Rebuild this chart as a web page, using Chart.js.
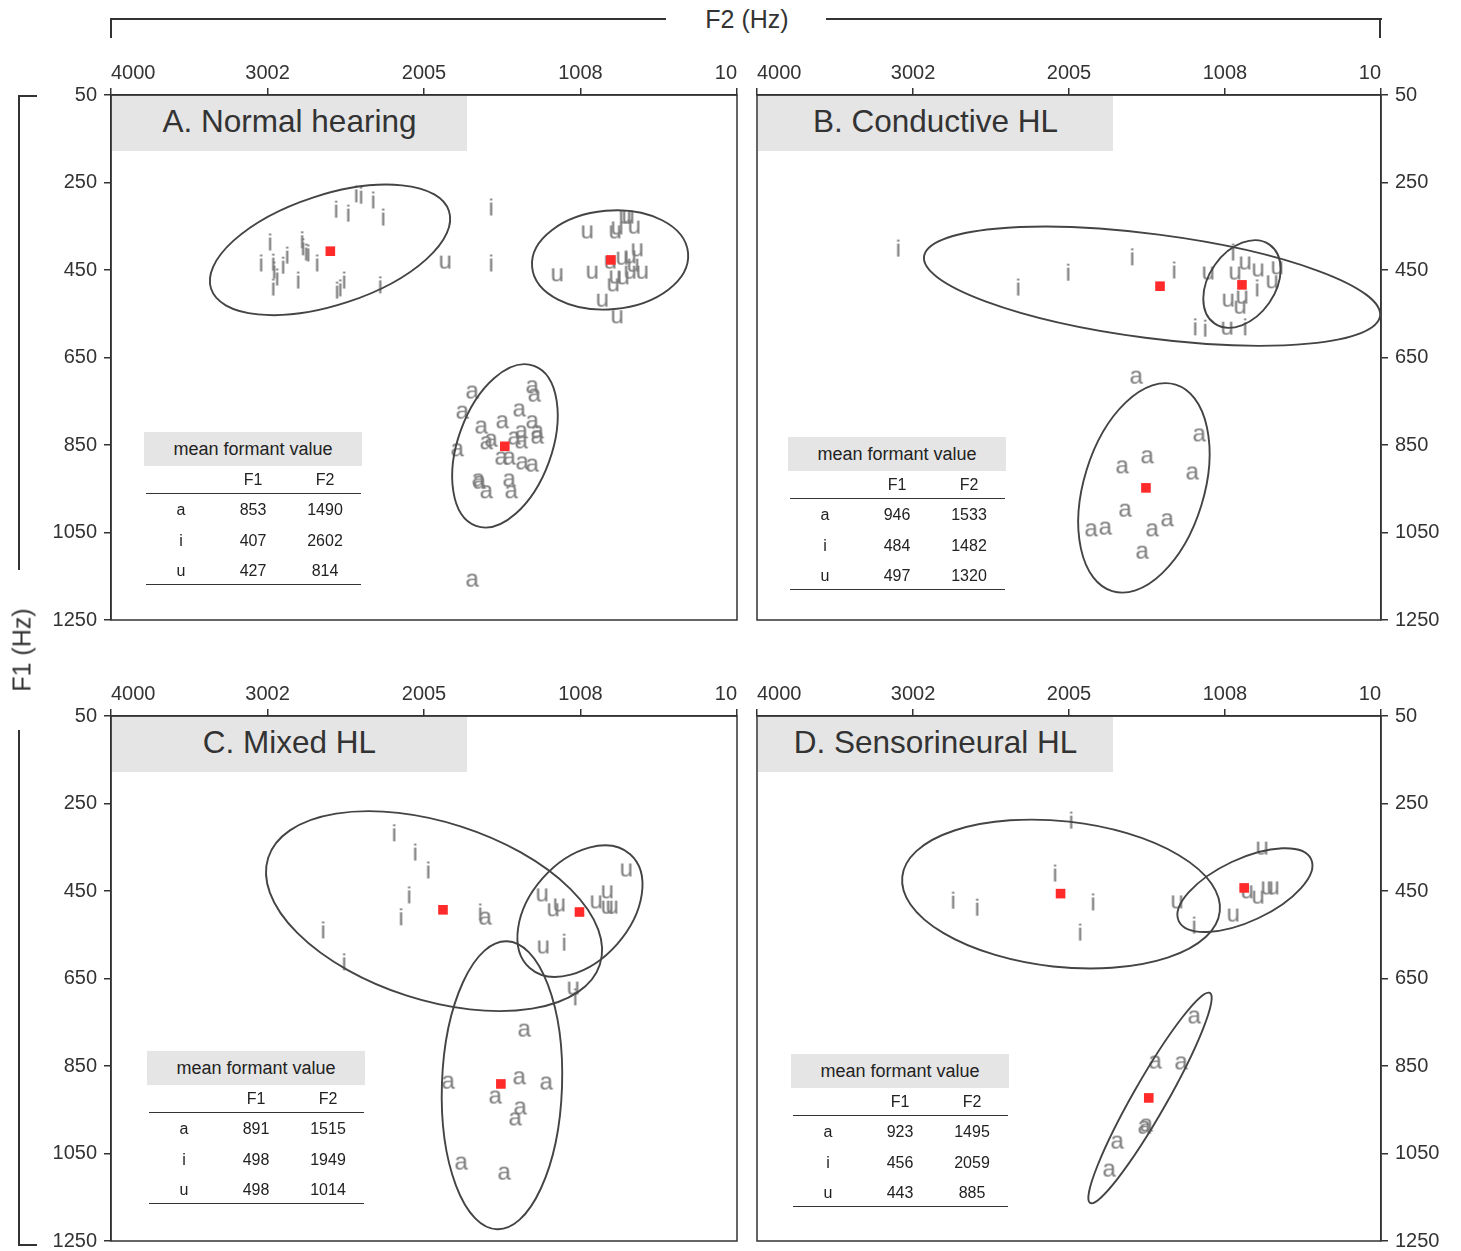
<!DOCTYPE html>
<html>
<head>
<meta charset="utf-8">
<script src="https://cdn.jsdelivr.net/npm/chart.js@4.4.1/dist/chart.umd.min.js"></script>
<style>
  html, body { margin: 0; padding: 0; background: #fff; width: 1461px; height: 1251px; overflow: hidden;
    font-family: "Liberation Sans", Arial, Helvetica, sans-serif; color: #333; }
  #page { position: relative; width: 1461px; height: 1251px; }
  canvas { position: absolute; }
  .title { position: absolute; background: #e5e5e5; font-size: 31.5px; color: #333; box-sizing: border-box;
    padding-bottom: 4px; display: flex; align-items: center; justify-content: center; }
  .thead { position: absolute; background: #e5e5e5; font-size: 18px; color: #222;
    display: flex; align-items: center; justify-content: center; }
  .cell { position: absolute; transform: translate(-50%, -50%); white-space: nowrap; font-size: 16px; color: #222; }
  .rule { position: absolute; height: 0; border-top: 1.5px solid #333; }
  .br { position: absolute; background: #333; }
  .axlab { position: absolute; font-size: 25px; color: #333; white-space: nowrap; transform: translate(-50%, -50%); }
</style>
</head>
<body>
<div id="page"></div>
<script>
// ---------- DATA ----------
const f2Ticks = [10, 1008, 2005, 3002, 4000];
const f1Ticks = [50, 250, 450, 650, 850, 1050, 1250];
const vowels = ['a', 'i', 'u'];

// A. Normal hearing  [F2, F1]
const normalI = [[2438,276],[2407,279],[2330,290],[2566,311],[2489,320],[2266,329],[2987,386],[2783,381],
  [2777,397],[2757,409],[2744,411],[2878,416],[2904,439],[2967,432],[3044,434],[2961,450],[2942,466],
  [2967,489],[2808,473],[2687,434],[2560,496],[2540,491],[2515,473],[2285,484],[1578,306],[1578,434]];
const normalU = [[1871,432],[966,363],[788,363],[775,354],[724,329],[705,329],[666,352],[1157,461],[934,455],
  [819,432],[743,423],[692,420],[647,404],[673,439],[615,455],[692,455],[788,466],[800,484],[737,468],
  [870,519],[775,557]];
const normalA = [[1693,729],[1310,717],[1297,736],[1756,775],[1393,770],[1635,809],[1501,797],[1310,797],
  [1278,820],[1278,832],[1380,820],[1603,845],[1572,839],[1425,834],[1380,843],[1788,861],[1508,880],
  [1457,880],[1374,891],[1310,896],[1654,930],[1648,935],[1603,957],[1457,930],[1444,957],[1693,1159]];
const normalMeans = [[1490,853],[2602,407],[814,427]];
const normalF1 = [853, 407, 427];
const normalF2 = [1490, 2602, 814];

// B. Conductive HL
const conductiveI = [[3098,400],[2331,489],[2011,455],[1602,420],[1334,450],[957,409],[803,491],
  [1199,580],[1135,583],[880,580]];
const conductiveU = [[1116,457],[944,457],[880,434],[797,450],[675,445],[707,477],[988,519],[899,512],
  [912,535],[995,583]];
const conductiveA = [[1570,695],[1167,827],[1500,877],[1660,900],[1212,914],[1641,999],[1858,1044],
  [1768,1040],[1468,1044],[1372,1021],[1532,1095]];
const conductiveMeans = [[1513,948],[1423,487],[899,484]];
const conductiveF1 = [946, 484, 497];
const conductiveF2 = [1533, 1482, 1320];

// C. Mixed HL
const mixedI = [[2196,317],[2062,361],[1979,402],[2101,459],[2152,509],[2649,539],[2515,612],[1648,498],
  [1113,567],[1042,692]];
const mixedU = [[1253,459],[1183,493],[1144,482],[909,475],[838,452],[838,487],[807,487],[717,402],
  [1246,578],[1055,672]];
const mixedA = [[1610,512],[1361,768],[1846,887],[1393,877],[1221,889],[1546,921],[1387,946],[1419,971],
  [1763,1072],[1489,1095]];
const mixedMeans = [[1515,891],[1884,493],[1014,498]];
const mixedF1 = [891, 498, 498];
const mixedF2 = [1515, 1949, 1014];

// D. Sensorineural HL
const sensoriI = [[1992,288],[2095,409],[2747,471],[2593,487],[1852,475],[1935,544],[1206,528]];
const sensoriU = [[1315,475],[771,352],[867,452],[797,464],[739,443],[701,443],[956,505]];
const sensoriA = [[1199,738],[1449,841],[1283,843],[1519,990],[1506,985],[1692,1024],[1743,1088]];
const sensoriMeans = [[1495,923],[2059,456],[885,443]];
const sensoriF1 = [923, 456, 443];
const sensoriF2 = [1495, 2059, 885];

// ellipses: centre [F2,F1], end of major axis [F2,F1], minor/major ratio
const normalEllipses = [
  { c: [2604,404], e: [1846,315], r: 0.44 },
  { c: [819,427], e: [322,411], r: 0.63 },
  { c: [1489,852], e: [1304,669], r: 0.55 }
];
const conductiveEllipses = [
  { c: [1474,487], e: [16,555], r: 0.226 },
  { c: [899,482], e: [723,392], r: 0.69 },
  { c: [1526,948], e: [1323,712], r: 0.556 }
];
const mixedEllipses = [
  { c: [1941,496], e: [884,618], r: 0.51 },
  { c: [1011,496], e: [691,366], r: 0.655 },
  { c: [1508,894], e: [1476,565], r: 0.417 }
];
const sensoriEllipses = [
  { c: [2056,457], e: [1041,497], r: 0.456 },
  { c: [880,448], e: [457,377], r: 0.425 },
  { c: [1487,923], e: [1104,683], r: 0.14 }
];

// ---------- DRAWING ----------
const FONT = '"Liberation Sans", Arial, Helvetica, sans-serif';
const INK = '#333333';
const page = document.getElementById('page');

function letterImage(ch) {
  const c = document.createElement('canvas');
  let ctx = c.getContext('2d');
  ctx.font = '24px ' + FONT;
  const m = ctx.measureText(ch);
  c.width = Math.ceil(m.actualBoundingBoxLeft + m.actualBoundingBoxRight) + 2;
  c.height = Math.ceil(m.actualBoundingBoxAscent + m.actualBoundingBoxDescent) + 2;
  ctx = c.getContext('2d');
  ctx.font = '24px ' + FONT;
  ctx.fillStyle = '#7a7a7a';
  ctx.fillText(ch, 1 + m.actualBoundingBoxLeft, 1 + m.actualBoundingBoxAscent);
  return c;
}
const letterA = letterImage('a');
const letterI = letterImage('i');
const letterU = letterImage('u');

const toXY = pts => pts.map(p => ({ x: p[0], y: p[1] }));

// frame round the plot + ellipses
const framePlugin = {
  id: 'frame',
  beforeDatasetsDraw(chart) {
    const a = chart.chartArea, ctx = chart.ctx;
    ctx.save();
    ctx.strokeStyle = INK;
    ctx.lineWidth = 1.5;
    ctx.strokeRect(a.left, a.top, a.right - a.left, a.bottom - a.top);
    ctx.restore();
  },
  afterDatasetsDraw(chart, args, opts) {
    const ctx = chart.ctx, xs = chart.scales.x, ys = chart.scales.y;
    ctx.save();
    ctx.strokeStyle = '#444';
    ctx.lineWidth = 1.9;
    (opts.ellipses || []).forEach(el => {
      const cx = xs.getPixelForValue(el.c[0]), cy = ys.getPixelForValue(el.c[1]);
      const ex = xs.getPixelForValue(el.e[0]), ey = ys.getPixelForValue(el.e[1]);
      const rad = Math.hypot(ex - cx, ey - cy);
      ctx.beginPath();
      ctx.ellipse(cx, cy, rad, rad * el.r, Math.atan2(ey - cy, ex - cx), 0, Math.PI * 2);
      ctx.stroke();
    });
    ctx.restore();
  }
};

function addDiv(cls, css, text) {
  const d = document.createElement('div');
  d.className = cls;
  Object.assign(d.style, css);
  if (text !== undefined) d.textContent = text;
  page.appendChild(d);
  return d;
}

function makePanel(p) {
  const w = p.right - p.left, h = p.bottom - p.top;
  const leftAxis = p.axis === 'left';
  const canvas = document.createElement('canvas');
  const cl = leftAxis ? p.left - 111 : p.left - 10;
  canvas.width = leftAxis ? 111 + w + 10 : 10 + w + 80;
  canvas.height = 55 + h + 20;
  canvas.style.left = cl + 'px';
  canvas.style.top = (p.top - 55) + 'px';
  page.appendChild(canvas);

  const tickFont = { family: FONT, size: 20 };
  new Chart(canvas, {
    type: 'scatter',
    data: {
      datasets: [
        { label: 'mean', data: toXY(p.means), pointStyle: 'rect', pointRadius: 6.8,
          backgroundColor: '#ff2a2a', borderWidth: 0 },
        { label: 'a', data: toXY(p.A), pointStyle: letterA, pointRadius: 5 },
        { label: 'i', data: toXY(p.I), pointStyle: letterI, pointRadius: 5 },
        { label: 'u', data: toXY(p.U), pointStyle: letterU, pointRadius: 5 }
      ]
    },
    options: {
      responsive: false,
      animation: false,
      events: [],
      layout: { padding: { left: leftAxis ? 0 : 10, right: leftAxis ? 10 : 0, top: 0, bottom: 20 } },
      plugins: {
        legend: { display: false },
        tooltip: { enabled: false },
        frame: { ellipses: p.ellipses }
      },
      scales: {
        x: {
          type: 'linear', position: 'top', reverse: true, min: 10, max: 4000,
          afterBuildTicks: s => { s.ticks = f2Ticks.map(v => ({ value: v })); },
          afterFit: s => { s.height = 55; },
          ticks: { align: 'inner', color: INK, font: tickFont, padding: 3, maxRotation: 0, autoSkip: false,
            callback: v => String(v) },
          grid: { drawOnChartArea: false, color: INK, lineWidth: 1.5, tickLength: 7 },
          border: { color: INK, width: 1.5 }
        },
        y: {
          type: 'linear', position: leftAxis ? 'left' : 'right', reverse: true, min: 50, max: 1250,
          afterBuildTicks: s => { s.ticks = f1Ticks.map(v => ({ value: v })); },
          afterFit: s => { s.width = leftAxis ? 111 : 80; },
          ticks: { color: INK, font: tickFont, padding: 7, autoSkip: false, callback: v => String(v) },
          grid: { drawOnChartArea: false, color: INK, lineWidth: 1.5, tickLength: 7 },
          border: { color: INK, width: 1.5 }
        }
      }
    },
    plugins: [framePlugin]
  });

  // title box
  addDiv('title', { left: (p.left + 1) + 'px', top: (p.top + 1) + 'px', width: '355px', height: '55px' }, p.title);

  // table
  const tx = p.table[0], ty = p.table[1];
  addDiv('thead', { left: tx + 'px', top: ty + 'px', width: '218px', height: '34px' }, 'mean formant value');
  addDiv('cell', { left: (tx + 109) + 'px', top: (ty + 48) + 'px' }, 'F1');
  addDiv('cell', { left: (tx + 181) + 'px', top: (ty + 48) + 'px' }, 'F2');
  addDiv('rule', { left: (tx + 2) + 'px', top: (ty + 61) + 'px', width: '215px' });
  vowels.forEach((v, k) => {
    const y = ty + 78 + k * 30.5;
    addDiv('cell', { left: (tx + 37) + 'px', top: y + 'px' }, v);
    addDiv('cell', { left: (tx + 109) + 'px', top: y + 'px' }, String(p.f1[k]));
    addDiv('cell', { left: (tx + 181) + 'px', top: y + 'px' }, String(p.f2[k]));
  });
  addDiv('rule', { left: (tx + 2) + 'px', top: (ty + 152) + 'px', width: '215px' });
}

const panels = [
  { title: 'A. Normal hearing', left: 111, top: 95, right: 737, bottom: 620, axis: 'left',
    I: normalI, U: normalU, A: normalA, means: normalMeans, ellipses: normalEllipses,
    f1: normalF1, f2: normalF2, table: [144, 432] },
  { title: 'B. Conductive HL', left: 757, top: 95, right: 1381, bottom: 620, axis: 'right',
    I: conductiveI, U: conductiveU, A: conductiveA, means: conductiveMeans, ellipses: conductiveEllipses,
    f1: conductiveF1, f2: conductiveF2, table: [788, 437] },
  { title: 'C. Mixed HL', left: 111, top: 716, right: 737, bottom: 1241, axis: 'left',
    I: mixedI, U: mixedU, A: mixedA, means: mixedMeans, ellipses: mixedEllipses,
    f1: mixedF1, f2: mixedF2, table: [147, 1051] },
  { title: 'D. Sensorineural HL', left: 757, top: 716, right: 1381, bottom: 1241, axis: 'right',
    I: sensoriI, U: sensoriU, A: sensoriA, means: sensoriMeans, ellipses: sensoriEllipses,
    f1: sensoriF1, f2: sensoriF2, table: [791, 1054] }
];
panels.forEach(makePanel);

// outer axis titles with brackets
addDiv('axlab', { left: '747px', top: '19px' }, 'F2 (Hz)');
addDiv('br', { left: '111px', top: '18px', width: '555px', height: '2px' });
addDiv('br', { left: '826px', top: '18px', width: '556px', height: '2px' });
addDiv('br', { left: '110px', top: '18px', width: '2px', height: '20px' });
addDiv('br', { left: '1379px', top: '18px', width: '2px', height: '20px' });

addDiv('axlab', { left: '22px', top: '650px', transform: 'translate(-50%, -50%) rotate(-90deg)' }, 'F1 (Hz)');
addDiv('br', { left: '18px', top: '95px', width: '2px', height: '475px' });
addDiv('br', { left: '18px', top: '730px', width: '2px', height: '516px' });
addDiv('br', { left: '18px', top: '95px', width: '19px', height: '2px' });
addDiv('br', { left: '18px', top: '1244px', width: '19px', height: '2px' });
</script>
</body>
</html>
